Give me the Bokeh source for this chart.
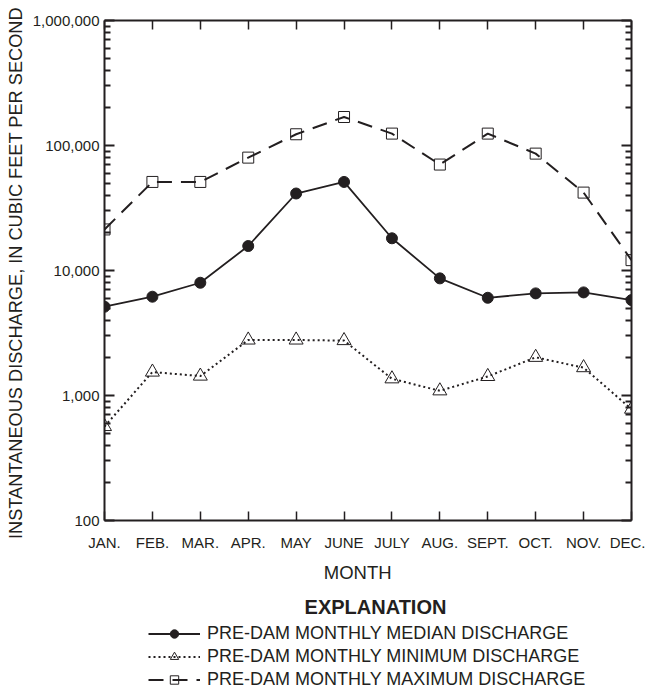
from bokeh.plotting import figure
from bokeh.layouts import column
from bokeh.models import (Range1d, FixedTicker, LinearAxis, LogAxis, NumeralTickFormatter,
                          Label, Legend, LegendItem, ColumnDataSource)
from bokeh.embed import file_html
from bokeh.resources import INLINE

# ---- data ----
months = ["JAN.", "FEB.", "MAR.", "APR.", "MAY", "JUNE", "JULY", "AUG.", "SEPT.", "OCT.", "NOV.", "DEC."]
median_q = [5130, 6170, 7980, 15700, 41300, 51100, 18100, 8650, 6050, 6560, 6680, 5800]
minimum_q = [565, 1540, 1430, 2780, 2780, 2750, 1360, 1090, 1420, 2020, 1670, 778]
maximum_q = [21300, 51100, 51100, 80000, 123000, 169000, 124500, 70400, 124500, 86100, 42000, 12100]
y_ticks = [100, 1000, 10000, 100000, 1000000]
series_labels = ["PRE-DAM MONTHLY MEDIAN DISCHARGE",
                 "PRE-DAM MONTHLY MINIMUM DISCHARGE",
                 "PRE-DAM MONTHLY MAXIMUM DISCHARGE"]

ink = "#231f20"
font = "Liberation Sans"
NB = "\u00a0"

x_pos = list(range(len(months)))
y_minor = [m * t for t in y_ticks[:-1] for m in range(2, 10)]

src = ColumnDataSource(dict(x=x_pos, median=median_q, minimum=minimum_q, maximum=maximum_q))

# ---------------- main chart ----------------
p = figure(width=645, height=585, y_axis_type="log",
           x_range=Range1d(0, len(months) - 1), y_range=Range1d(y_ticks[0], y_ticks[-1]),
           output_backend="svg", toolbar_location=None,
           min_border_left=104, min_border_right=14, min_border_top=20, min_border_bottom=64)
p.grid.visible = False
p.outline_line_color = None
p.background_fill_color = "white"
p.border_fill_color = "white"

# bottom axis
xa = p.xaxis[0]
xa.ticker = FixedTicker(ticks=x_pos)
xa.major_label_overrides = {i: m for i, m in enumerate(months)}
xa.major_tick_in = 9
xa.major_tick_out = 0
xa.minor_tick_line_color = None
xa.axis_line_width = 2
xa.axis_line_color = ink
xa.major_tick_line_color = ink
xa.major_tick_line_width = 1.5
xa.major_label_text_font = font
xa.major_label_text_font_size = "15px"
xa.major_label_text_color = ink
xa.major_label_standoff = 13
xa.axis_label = "MONTH" + NB * 4
xa.axis_label_text_font = font
xa.axis_label_text_font_size = "18.5px"
xa.axis_label_text_font_style = "normal"
xa.axis_label_text_color = ink
xa.axis_label_standoff = 8

# left axis
ya = p.yaxis[0]
ya.ticker = FixedTicker(ticks=y_ticks, minor_ticks=y_minor)
ya.formatter = NumeralTickFormatter(format="0,0")
ya.major_tick_in = 10
ya.major_tick_out = 0
ya.minor_tick_in = 6
ya.minor_tick_out = 0
ya.axis_line_width = 2
ya.axis_line_color = ink
ya.major_tick_line_color = ink
ya.minor_tick_line_color = ink
ya.major_tick_line_width = 2
ya.minor_tick_line_width = 2
ya.major_label_text_font = font
ya.major_label_text_font_size = "15px"
ya.major_label_text_color = ink
ya.major_label_standoff = 5
ya.axis_label = "INSTANTANEOUS DISCHARGE, IN CUBIC FEET PER SECOND" + NB
ya.axis_label_text_font = font
ya.axis_label_text_font_size = "18.2px"
ya.axis_label_text_font_style = "normal"
ya.axis_label_text_color = ink
ya.axis_label_standoff = 4

# top axis (ticks only)
top = LinearAxis(ticker=FixedTicker(ticks=x_pos), major_tick_in=9, major_tick_out=0,
                 minor_tick_line_color=None, axis_line_width=2, axis_line_color=ink,
                 major_tick_line_color=ink, major_tick_line_width=1.5,
                 major_label_text_font_size="1px", major_label_text_alpha=0,
                 major_label_standoff=0)
p.add_layout(top, "above")

# right axis (ticks only)
right = LogAxis(ticker=FixedTicker(ticks=y_ticks, minor_ticks=y_minor),
                major_tick_in=10, major_tick_out=0, minor_tick_in=6, minor_tick_out=0,
                axis_line_width=2, axis_line_color=ink,
                major_tick_line_color=ink, minor_tick_line_color=ink,
                major_tick_line_width=2, minor_tick_line_width=2,
                major_label_text_font_size="1px", major_label_text_alpha=0,
                major_label_standoff=0)
p.add_layout(right, "right")

# series styles
med_line = dict(line_color=ink, line_width=1.8)
med_mark = dict(marker="circle", size=11, fill_color=ink, line_color=ink)
min_line = dict(line_color=ink, line_width=2, line_dash="2 3")
min_mark = dict(marker="triangle", size=14, fill_color=None, line_color=ink, line_width=1)
max_line = dict(line_color=ink, line_width=2, line_dash="15 9")
max_mark = dict(marker="square", size=11, fill_color=None, line_color=ink, line_width=1)

p.line("x", "median", source=src, **med_line)
p.scatter("x", "median", source=src, **med_mark)
p.line("x", "minimum", source=src, **min_line)
p.scatter("x", "minimum", source=src, **min_mark)
p.line("x", "maximum", source=src, **max_line)
p.scatter("x", "maximum", source=src, **max_mark)

# ---------------- explanation panel ----------------
H2 = 106
p2 = figure(width=645, height=H2, x_range=Range1d(0, 527), y_range=Range1d(0, H2),
            output_backend="svg", toolbar_location=None,
            x_axis_location=None, y_axis_location=None,
            min_border_left=104, min_border_right=14, min_border_top=0, min_border_bottom=0)
p2.grid.visible = False
p2.outline_line_color = None
p2.background_fill_color = "white"
p2.border_fill_color = "white"

expl = Label(x=271, y=H2 - 21, x_units="screen", y_units="screen", text="EXPLANATION",
             text_align="center", text_baseline="middle", text_font_style="bold",
             text_font=font, text_font_size="20px", text_color=ink)
p2.add_layout(expl)

# key samples: same series, drawn in this panel's (out-of-view) space, used by the legend only
k1 = [p2.line("x", "median", source=src, **med_line),
      p2.scatter("x", "median", source=src, **med_mark)]
k2 = [p2.line("x", "minimum", source=src, **min_line),
      p2.scatter("x", "minimum", source=src, **min_mark)]
k3 = [p2.line("x", "maximum", source=src, **max_line),
      p2.scatter("x", "maximum", source=src, **max_mark)]

legend = Legend(items=[LegendItem(label=series_labels[0], renderers=k1),
                       LegendItem(label=series_labels[1], renderers=k2),
                       LegendItem(label=series_labels[2], renderers=k3)],
                location=(44, 1), orientation="vertical",
                glyph_width=52, glyph_height=21, label_height=21, label_standoff=7,
                spacing=2, padding=0, margin=0,
                border_line_color=None, background_fill_color=None, background_fill_alpha=0,
                label_text_font=font, label_text_font_size="18px", label_text_color=ink)
p2.add_layout(legend)

layout = column(p, p2, spacing=0)
open("out.html", "w").write(file_html(layout, INLINE))
